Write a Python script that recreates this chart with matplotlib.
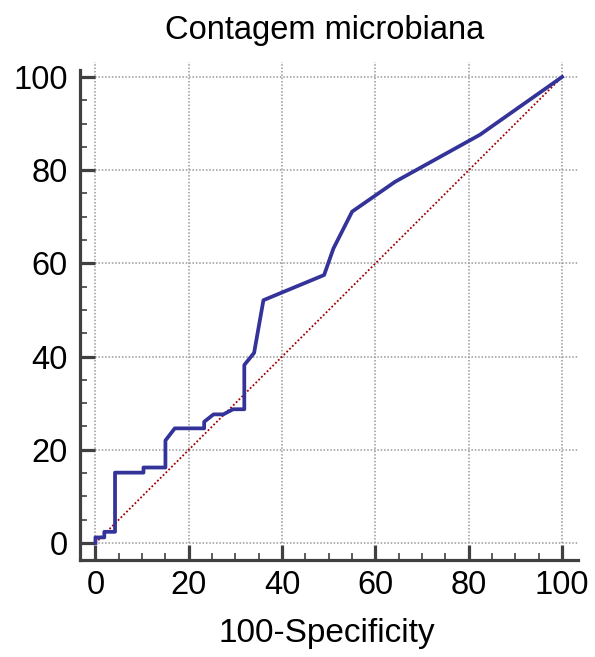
import matplotlib
matplotlib.use('Agg')
import matplotlib.pyplot as plt
from matplotlib.ticker import MultipleLocator

plt.rcParams['font.family'] = ['Liberation Sans', 'DejaVu Sans']

# ROC curve points (100-Specificity, Sensitivity)
fpr = [0, 0, 1.9, 1.9, 4.2, 4.2, 10.3, 10.3, 15.0, 15.0, 17.0, 23.3, 23.3, 25.3,
       27.4, 29.5, 31.9, 31.9, 34.0, 34.3, 36.0, 49.0, 51.0, 55.0, 64.2, 82.4, 100]
tpr = [0, 1.2, 1.2, 2.4, 2.4, 15.1, 15.1, 16.2, 16.2, 22.0, 24.6, 24.6, 26.0, 27.6,
       27.6, 28.7, 28.7, 38.2, 40.8, 42.5, 52.1, 57.5, 63.2, 71.1, 77.5, 87.6, 100]
diag = [0, 100]
ticks = [0, 20, 40, 60, 80, 100]

fig = plt.figure(figsize=(5.95, 6.57), dpi=100)
ax = fig.add_axes([0.1345, 0.1476, 0.8369, 0.758])

xlo, xhi = -3.3, 103.4
ylo, yhi = -3.65, 103.2
ax.set_xlim(xlo, xhi)
ax.set_ylim(ylo, yhi)

# grid only inside data range, like the original
for t in ticks:
    ax.plot([t, t], [0, yhi], color='#999999', lw=1.1, ls=(0, (1, 1.2)), zorder=1)
    ax.plot([0, xhi], [t, t], color='#999999', lw=1.1, ls=(0, (1, 1.2)), zorder=1)

ax.plot(diag, diag, color='#a00000', lw=1.3, ls=(0, (1, 1.2)), zorder=2)
ax.plot(fpr, tpr, color='#333399', lw=2.7, zorder=3)

ax.spines['top'].set_visible(False)
ax.spines['right'].set_visible(False)
for s in ['left', 'bottom']:
    ax.spines[s].set_linewidth(2.3)
    ax.spines[s].set_color('#404040')
ax.spines['left'].set_bounds(ylo, 101.5)

ax.set_xticks(ticks)
ax.set_yticks(ticks)
ax.xaxis.set_minor_locator(MultipleLocator(5))
ax.yaxis.set_minor_locator(MultipleLocator(5))
ax.tick_params(which='major', direction='in', length=11, width=2.3, color='#404040',
               labelsize=23.5, pad=7)
ax.tick_params(which='minor', direction='in', length=5, width=1.2, color='#404040')
ax.tick_params(axis='y', which='major', pad=9)

fig.text(0.545, 0.954, 'Contagem microbiana', ha='center', va='center', fontsize=23.5)
fig.text(0.55, 0.036, '100-Specificity', ha='center', va='center', fontsize=24)

fig.savefig('out.png', dpi=100)
